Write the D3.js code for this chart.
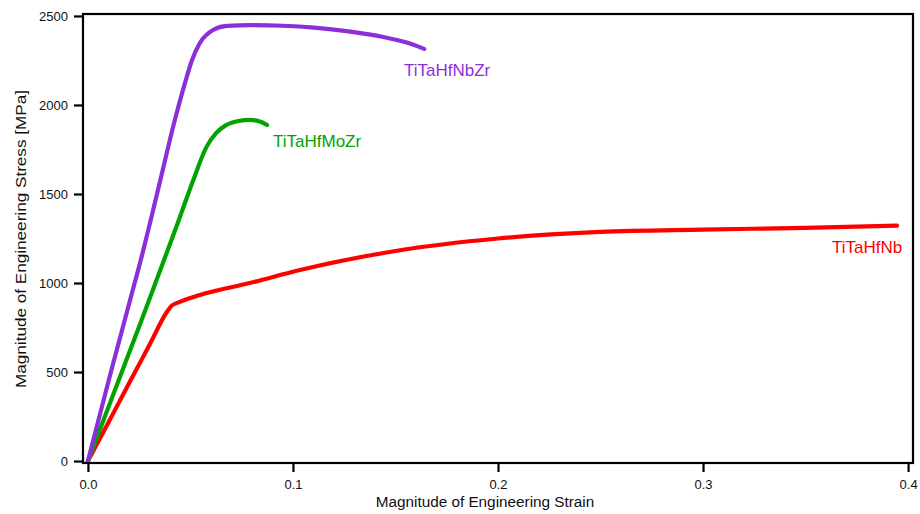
<!DOCTYPE html>
<html>
<head>
<meta charset="utf-8">
<script src="https://cdn.jsdelivr.net/npm/d3@7"></script>
<style>
  body { margin: 0; background: #fff; }
  text { font-family: "Liberation Sans", Arial, sans-serif; }
</style>
</head>
<body>
<div id="chart"></div>
<script>
// data (strain, stress MPa)
const nbzrStrain = [0, 0.0112, 0.0228, 0.0254, 0.0337, 0.0424, 0.0475, 0.0507, 0.0546, 0.061, 0.0678, 0.08, 0.095, 0.1117, 0.128, 0.144, 0.155, 0.164];
const nbzrStress = [0, 500, 1000, 1112, 1500, 1916, 2130, 2250, 2348, 2421, 2444, 2448, 2445, 2433, 2412, 2382, 2352, 2315];

const mozrStrain = [0, 0.0131, 0.0262, 0.0432, 0.0514, 0.0579, 0.0625, 0.0676, 0.0735, 0.079, 0.0835, 0.0873];
const mozrStress = [0, 396, 792, 1317, 1579, 1766, 1842, 1888, 1910, 1916, 1908, 1888];

const nbStrain = [0, 0.01, 0.02, 0.03, 0.0385, 0.0408, 0.0435, 0.0546, 0.079, 0.1034, 0.15, 0.2, 0.25, 0.3, 0.35, 0.3946];
const nbStress = [0, 217, 435, 652, 837, 872, 888, 933, 1000, 1073, 1180, 1250, 1287, 1300, 1310, 1322];

const seriesNames = ["TiTaHfNbZr", "TiTaHfMoZr", "TiTaHfNb"];
const seriesColors = ["#8b2fd9", "#00a300", "#ff0000"];

const xTicks = [0, 0.1, 0.2, 0.3, 0.4];
const yTicks = [0, 500, 1000, 1500, 2000, 2500];

const width = 920;
const height = 514;

const xScale = d3.scaleLinear()
    .domain([-0.0024, 0.4024])
    .range([83, 913]);

const yScale = d3.scaleLinear()
    .domain([-11, 2511])
    .range([463, 14]);

const svg = d3.select("#chart")
    .append("svg")
    .attr("width", width)
    .attr("height", height);

// curves
const series = [
    {name: seriesNames[0], color: seriesColors[0], pts: nbzrStrain.map((s, i) => [s, nbzrStress[i]])},
    {name: seriesNames[1], color: seriesColors[1], pts: mozrStrain.map((s, i) => [s, mozrStress[i]])},
    {name: seriesNames[2], color: seriesColors[2], pts: nbStrain.map((s, i) => [s, nbStress[i]])}
];

const line = d3.line()
    .x(d => xScale(d[0]))
    .y(d => yScale(d[1]))
    .curve(d3.curveMonotoneX);

svg.selectAll("path.curve")
    .data(series.slice().reverse())
    .join("path")
    .attr("class", "curve")
    .attr("d", d => line(d.pts))
    .attr("fill", "none")
    .attr("stroke", d => d.color)
    .attr("stroke-width", 4.2)
    .attr("stroke-linecap", "round")
    .attr("stroke-linejoin", "round");

// frame
svg.append("rect")
    .attr("x", 83)
    .attr("y", 14)
    .attr("width", 830)
    .attr("height", 449)
    .attr("fill", "none")
    .attr("stroke", "#000")
    .attr("stroke-width", 2.2);

// axes
const xAxis = svg.append("g")
    .attr("transform", "translate(0,463)")
    .call(d3.axisBottom(xScale).tickValues(xTicks).tickFormat(d3.format(".1f")).tickSize(9).tickPadding(8));

const yAxis = svg.append("g")
    .attr("transform", "translate(83,0)")
    .call(d3.axisLeft(yScale).tickValues(yTicks).tickFormat(d3.format("d")).tickSize(9).tickPadding(6));

[xAxis, yAxis].forEach(g => {
    g.select(".domain").remove();
    g.selectAll("line").attr("stroke", "#000").attr("stroke-width", 2.2);
    g.selectAll("text").attr("font-size", 13).attr("fill", "#111");
});

// labels
svg.append("text")
    .attr("x", 485)
    .attr("y", 507)
    .attr("text-anchor", "middle")
    .attr("font-size", 15.3)
    .attr("fill", "#111")
    .text("Magnitude of Engineering Strain");

svg.append("text")
    .attr("transform", "translate(26,239) rotate(-90)")
    .attr("text-anchor", "middle")
    .attr("font-size", 15.5)
    .attr("textLength", 298)
    .attr("lengthAdjust", "spacingAndGlyphs")
    .attr("fill", "#111")
    .text("Magnitude of Engineering Stress [MPa]");

const labelPos = [[404, 76], [273, 147], [832, 253]];
svg.selectAll("text.series")
    .data(series)
    .join("text")
    .attr("class", "series")
    .attr("x", (d, i) => labelPos[i][0])
    .attr("y", (d, i) => labelPos[i][1])
    .attr("font-size", 17)
    .attr("fill", d => d.color)
    .text(d => d.name);
</script>
</body>
</html>
